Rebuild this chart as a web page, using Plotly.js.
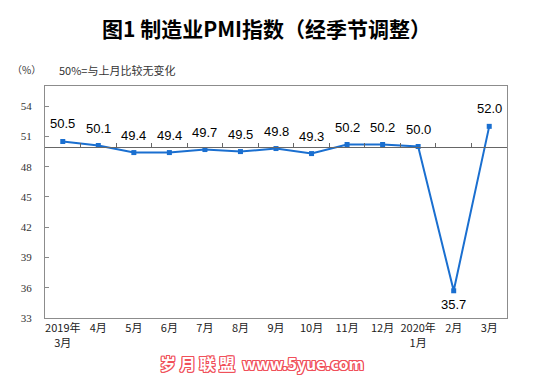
<!DOCTYPE html>
<html><head><meta charset="utf-8">
<script src="https://cdn.plot.ly/plotly-3.0.1.min.js"></script>
<style>html,body{margin:0;padding:0;background:#fff}#chart{width:533px;height:376px}</style>
</head><body><div id="chart"></div>
<script>
const months = ["2019年<br>3月","4月","5月","6月","7月","8月","9月","10月","11月","12月","2020年<br>1月","2月","3月"];
const pmi = [50.5,50.1,49.4,49.4,49.7,49.5,49.8,49.3,50.2,50.2,50.0,35.7,52.0];
const yTicks = [33,36,39,42,45,48,51,54];
const yMin = 33, yMax = 56, baseLine = 50;

const idx = months.map((_, i) => i);
const boundaries = idx.slice(0, -1).map(i => i + 0.5);

const labelAnn = pmi.map((v, i) => {
  const below = v < baseLine - 5;
  return {
    x: i, y: v, xref: 'x', yref: 'y', text: v.toFixed(1), showarrow: false,
    yanchor: below ? 'top' : 'bottom', yshift: below ? -4 : 8,
    font: {family: 'Liberation Sans, Arial, sans-serif', size: 13, color: '#000'}
  };
});

const red = '#f0505a';
const layout = {
  width: 533, height: 376,
  margin: {l: 45, r: 26, t: 86, b: 58},
  paper_bgcolor: '#fff', plot_bgcolor: '#fff',
  showlegend: false,
  title: {text: '图1 制造业PMI指数（经季节调整）', x: 0.5, xanchor: 'center', y: 0.922, yanchor: 'middle',
          font: {family: 'Noto Sans CJK SC, sans-serif', size: 21, color: '#000', weight: 'bold'}},
  xaxis: {
    range: [-0.5, months.length - 0.5], tickvals: idx, ticktext: months,
    showgrid: false, zeroline: false, ticks: '', showline: true, mirror: true,
    linecolor: '#8c8c8c', linewidth: 1,
    tickfont: {family: 'Noto Sans CJK SC, sans-serif', size: 11, color: '#222'}
  },
  xaxis2: {
    overlaying: 'x', anchor: 'free', position: (baseLine - yMin) / (yMax - yMin),
    range: [-0.5, months.length - 0.5], tickvals: boundaries, ticks: 'inside', ticklen: 4,
    tickcolor: '#666', showticklabels: false, showgrid: false, zeroline: false,
    showline: true, linecolor: '#666', linewidth: 1
  },
  yaxis: {
    range: [yMin, yMax], tickvals: yTicks, ticks: 'inside', ticklen: 4, tickcolor: '#888',
    showgrid: false, zeroline: false, showline: true, mirror: true, linecolor: '#8c8c8c',
    tickfont: {family: 'Liberation Serif, serif', size: 11, color: '#333'}, ticklabelstandoff: 10
  },
  annotations: labelAnn.concat([
    {xref: 'paper', yref: 'paper', x: -0.041, y: 1.07, xanchor: 'center', yanchor: 'middle', showarrow: false,
     text: '（%）', font: {family: 'Noto Sans CJK SC, sans-serif', size: 10, color: '#333'}},
    {xref: 'paper', yref: 'paper', x: 0.026, y: 1.07, xanchor: 'left', yanchor: 'middle', showarrow: false,
     text: '50%=与上月比较无变化', font: {family: 'Noto Sans CJK SC, sans-serif', size: 11, color: '#333'}},
    {xref: 'paper', yref: 'paper', x: 0.47, y: -0.195, xanchor: 'center', yanchor: 'middle', showarrow: false,
     text: '岁 月 联 盟  www.5yue.com',
     font: {family: 'Noto Sans CJK SC, sans-serif', size: 16, color: '#ffffff', weight: 'bold',
            shadow: `1px 0 ${red}, -1px 0 ${red}, 0 1px ${red}, 0 -1px ${red}, 1px 1px ${red}, -1px -1px ${red}, 1px -1px ${red}, -1px 1px ${red}`}}
  ])
};

const traces = [
  {x: idx, y: pmi, type: 'scatter', mode: 'lines+markers', xaxis: 'x', yaxis: 'y',
   line: {color: '#1a6fd0', width: 2}, marker: {symbol: 'square', size: 5, color: '#1a6fd0'},
   hoverinfo: 'skip'},
  {x: idx, y: pmi, type: 'scatter', mode: 'markers', xaxis: 'x2', yaxis: 'y',
   marker: {opacity: 0}, hoverinfo: 'skip'}
];

Plotly.newPlot('chart', traces, layout, {displayModeBar: false, staticPlot: true});
</script></body></html>
